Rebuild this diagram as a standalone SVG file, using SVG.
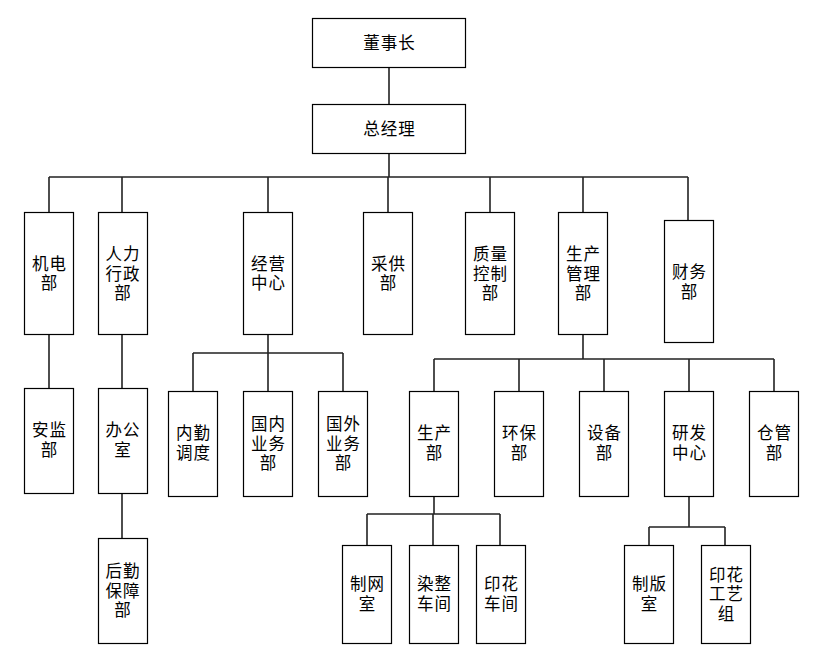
<svg xmlns="http://www.w3.org/2000/svg" width="817" height="667" viewBox="0 0 817 667">
<style>
.box{fill:#fff;stroke:#000;stroke-width:1.2}
.t{font-family:"Liberation Sans","Noto Sans CJK SC",sans-serif;font-size:16.5px;letter-spacing:1px;fill:#000;text-anchor:middle;dominant-baseline:central}
.c{fill:none;stroke:#222;stroke-width:1.6}
</style>
<rect width="817" height="667" fill="#fff"/>
<g id="connectors">
<path class="c" d="M389 67V104M389 153V177M49 177H688M49 177V212M122 177V212M268 177V212M388 177V212M490 177V212M583 177V212M688 177V220"/>
<path class="c" d="M49 334V388M122 334V388M122 493V538"/>
<path class="c" d="M268 334V353M193 353H343M193 353V391M268 353V391M343 353V391"/>
<path class="c" d="M583 334V359M434 359H774M434 359V391M519 359V391M604 359V391M689 359V391M774 359V391"/>
<path class="c" d="M434 496V514M367 514H500M367 514V545M433 514V545M500 514V545"/>
<path class="c" d="M689 496V527M649 527H725M649 527V545M725 527V545"/>
</g>
<g id="n-dsz"><rect class="box" x="312.5" y="18.5" width="153" height="49"/><text class="t" x="389.5" y="42.5">董事长</text></g>
<g id="n-zjl"><rect class="box" x="312.5" y="104.5" width="153" height="49"/><text class="t" x="389.5" y="128.5">总经理</text></g>
<g id="n-jdb"><rect class="box" x="24.5" y="212.5" width="49" height="122"/><text class="t" x="49.5" y="263.5">机电</text><text class="t" x="49.5" y="283">部</text></g>
<g id="n-rlxzb"><rect class="box" x="98.5" y="212.5" width="49" height="122"/><text class="t" x="123" y="254">人力</text><text class="t" x="123" y="273.5">行政</text><text class="t" x="123" y="293">部</text></g>
<g id="n-jyzx"><rect class="box" x="243.5" y="212.5" width="49" height="122"/><text class="t" x="268.5" y="263.5">经营</text><text class="t" x="268.5" y="283">中心</text></g>
<g id="n-cgb"><rect class="box" x="363.5" y="212.5" width="49" height="122"/><text class="t" x="388.5" y="263.5">采供</text><text class="t" x="388.5" y="283">部</text></g>
<g id="n-zlkzb"><rect class="box" x="465.5" y="212.5" width="49" height="122"/><text class="t" x="490.5" y="254">质量</text><text class="t" x="490.5" y="273.5">控制</text><text class="t" x="490.5" y="293">部</text></g>
<g id="n-scglb"><rect class="box" x="558.5" y="212.5" width="49" height="122"/><text class="t" x="583.5" y="254">生产</text><text class="t" x="583.5" y="273.5">管理</text><text class="t" x="583.5" y="293">部</text></g>
<g id="n-cwb"><rect class="box" x="664.5" y="220.5" width="49" height="122"/><text class="t" x="689.5" y="272">财务</text><text class="t" x="689.5" y="291.5">部</text></g>
<g id="n-ajb"><rect class="box" x="24.5" y="388.5" width="49" height="105"/><text class="t" x="49.5" y="430">安监</text><text class="t" x="49.5" y="449.5">部</text></g>
<g id="n-bgs"><rect class="box" x="98.5" y="388.5" width="49" height="105"/><text class="t" x="123" y="430">办公</text><text class="t" x="123" y="449.5">室</text></g>
<g id="n-hqbzb"><rect class="box" x="98.5" y="538.5" width="49" height="105"/><text class="t" x="123" y="571">后勤</text><text class="t" x="123" y="590.5">保障</text><text class="t" x="123" y="610">部</text></g>
<g id="n-nqdd"><rect class="box" x="168.5" y="391.5" width="49" height="105"/><text class="t" x="193.5" y="433">内勤</text><text class="t" x="193.5" y="452.5">调度</text></g>
<g id="n-gnywb"><rect class="box" x="243.5" y="391.5" width="49" height="105"/><text class="t" x="268.5" y="424">国内</text><text class="t" x="268.5" y="443.5">业务</text><text class="t" x="268.5" y="463">部</text></g>
<g id="n-gwywb"><rect class="box" x="318.5" y="391.5" width="49" height="105"/><text class="t" x="343.5" y="424">国外</text><text class="t" x="343.5" y="443.5">业务</text><text class="t" x="343.5" y="463">部</text></g>
<g id="n-scb"><rect class="box" x="409.5" y="391.5" width="49" height="105"/><text class="t" x="434.5" y="433">生产</text><text class="t" x="434.5" y="452.5">部</text></g>
<g id="n-hbb"><rect class="box" x="494.5" y="391.5" width="49" height="105"/><text class="t" x="519.5" y="433">环保</text><text class="t" x="519.5" y="452.5">部</text></g>
<g id="n-sbb"><rect class="box" x="579.5" y="391.5" width="49" height="105"/><text class="t" x="604.5" y="433">设备</text><text class="t" x="604.5" y="452.5">部</text></g>
<g id="n-yfzx"><rect class="box" x="664.5" y="391.5" width="49" height="105"/><text class="t" x="689.5" y="433">研发</text><text class="t" x="689.5" y="452.5">中心</text></g>
<g id="n-cgb2"><rect class="box" x="749.5" y="391.5" width="49" height="105"/><text class="t" x="774.5" y="433">仓管</text><text class="t" x="774.5" y="452.5">部</text></g>
<g id="n-zws"><rect class="box" x="342.5" y="545.5" width="49" height="98"/><text class="t" x="367.5" y="584">制网</text><text class="t" x="367.5" y="603.5">室</text></g>
<g id="n-rzcj"><rect class="box" x="409.5" y="545.5" width="49" height="98"/><text class="t" x="434.5" y="584">染整</text><text class="t" x="434.5" y="603.5">车间</text></g>
<g id="n-yhcj"><rect class="box" x="476.5" y="545.5" width="49" height="98"/><text class="t" x="501.5" y="584">印花</text><text class="t" x="501.5" y="603.5">车间</text></g>
<g id="n-zbs"><rect class="box" x="624.5" y="545.5" width="49" height="98"/><text class="t" x="649.5" y="584">制版</text><text class="t" x="649.5" y="603.5">室</text></g>
<g id="n-yhgyz"><rect class="box" x="701.5" y="545.5" width="49" height="98"/><text class="t" x="726.5" y="574.5">印花</text><text class="t" x="726.5" y="594">工艺</text><text class="t" x="726.5" y="613.5">组</text></g>
</svg>
